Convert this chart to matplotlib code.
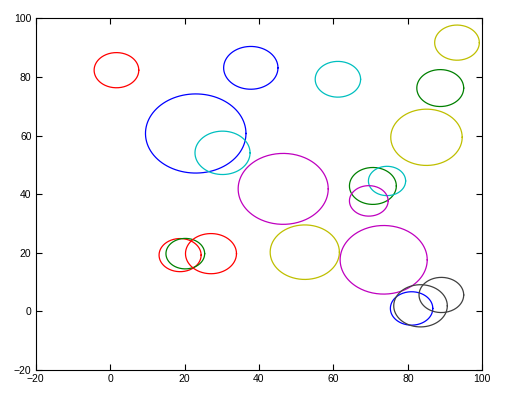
import matplotlib
matplotlib.use("Agg")
import matplotlib.pyplot as plt
import numpy as np

# circle centers, radii and colours (data units)
cx = [1.7, 23.0, 30.2, 37.8, 61.2, 93.2, 88.7, 85.0, 46.5, 70.6,
      74.4, 69.5, 52.3, 73.5, 81.0, 83.4, 89.0, 18.8, 20.2, 27.1]
cy = [82.3, 60.7, 54.1, 83.1, 79.2, 91.7, 76.2, 59.4, 41.8, 42.8,
      44.5, 37.7, 20.2, 17.6, 1.0, 1.9, 5.6, 19.2, 19.7, 19.7]
radii = [6.0, 13.5, 7.4, 7.3, 6.1, 6.0, 6.3, 9.6, 12.1, 6.3,
         5.0, 5.2, 9.3, 11.7, 5.7, 7.2, 6.0, 5.65, 5.2, 6.85]
colors = ['r', 'b', 'c', 'b', 'c', 'y', 'g', 'y', 'm', 'g',
          'c', 'm', 'y', 'm', 'b', 'k', 'k', 'r', 'g', 'r']

color_map = {'r': '#ff0000', 'g': '#008000', 'b': '#0000ff', 'c': '#00bfbf',
             'm': '#bf00bf', 'y': '#bfbf00', 'k': '#404040'}

xticks = [-20, 0, 20, 40, 60, 80, 100]
yticks = [-20, 0, 20, 40, 60, 80, 100]

plt.rcParams['font.family'] = ['Liberation Sans', 'DejaVu Sans']

fig = plt.figure(figsize=(5.12, 3.99), dpi=100)
ax = fig.add_axes([0.0697, 0.0727, 0.8723, 0.8814])

t = np.linspace(0, 2 * np.pi, 200)
for x0, y0, r, c in zip(cx, cy, radii, colors):
    ax.plot(x0 + r * np.cos(t), y0 + r * np.sin(t), color=color_map[c], lw=0.9)

ax.set_xlim(-20, 100)
ax.set_ylim(-20, 100)
ax.set_xticks(xticks)
ax.set_yticks(yticks)
ax.tick_params(direction='in', length=4, width=0.8, top=True, right=True,
               labelsize=7.5, pad=3)
for s in ax.spines.values():
    s.set_linewidth(0.8)

fig.savefig("out.png", dpi=100)
